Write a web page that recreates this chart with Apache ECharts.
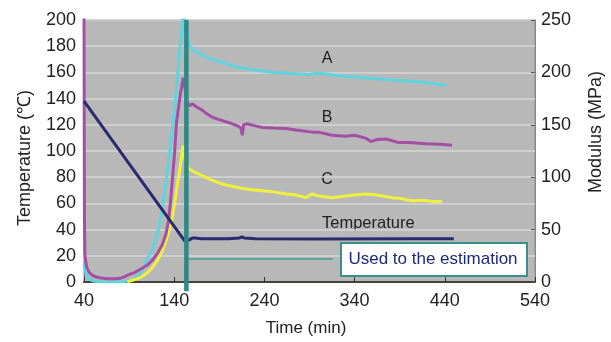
<!DOCTYPE html>
<html>
<head>
<meta charset="utf-8">
<script src="https://cdn.jsdelivr.net/npm/echarts@6/dist/echarts.min.js"></script>
<style>
html,body{margin:0;padding:0;background:#fff;}
#c{width:611px;height:342px;}
</style>
</head>
<body>
<div id="c"></div>
<script>
// Time (min) vs value; modulus series in MPa (right axis), temperature in °C (left axis)
const xTicks = [40, 140, 240, 340, 440, 540];
const tempTicks = [0, 20, 40, 60, 80, 100, 120, 140, 160, 180, 200];
const modTicks = [0, 50, 100, 150, 200, 250];

const seriesA = [[40,18],[42,9],[45,3],[50,1],[60,0],[80,0],[95,2],[100,6],[105,13],[110,21],[115,30],[121,44],[127,71],[131,97],[135,124],[140,162],[144,199],[147,228],[149.5,252],[152,250],[155,232],[157,225],[162,221],[170,217],[180,213],[195,209],[210,205],[230,202],[250,200],[270,199],[290,198],[300,199.5],[320,197],[350,195],[380,193],[410,191],[430,189],[442,187.5]];

const seriesB = [[40,252],[40.5,60],[41,25],[43,14],[46,9],[50,6],[57,4],[65,3],[75,3],[80,3.5],[85,5],[91,7.5],[96,9],[102,12],[110,16],[116,21],[122,28],[127,36],[131,46],[134,60],[136,78],[138,98],[140.5,124],[142.5,152],[145,168],[147,180],[150,195],[152,185],[154,172],[157,168],[160,170],[165,167],[171,164],[177,160],[183,157],[190,155],[201,152],[210,149],[214,147],[215.5,140],[217,150],[221,151],[230,149],[238,147.5],[250,147],[264,146.5],[275,145],[293,143],[300,143],[315,140],[330,139],[340,140],[353,137],[358,134],[365,136],[375,136.5],[389,133],[400,133],[420,132],[435,131.5],[448,130.5]];

const seriesC = [[88,0],[91,1],[95,2],[99,3],[104,5],[110,8.6],[115,13],[121,20],[126,28],[130,37],[133,45],[135,52],[138,63],[141,78],[143,90],[145,101],[147.5,115],[149.5,130],[151,122],[153,112],[155,109],[158,107],[165,104],[172,101],[182,97],[195,93],[212,90],[225,88],[238,87],[250,86],[264,84],[275,83],[286,80.5],[293,84],[300,82],[315,80.5],[330,82],[340,83],[353,84],[365,83],[381,80.5],[390,80],[403,77.6],[415,78],[425,77],[437,76.5]];

const seriesTemp = [[40,138],[152,31],[153,31],[156,32],[160,33.5],[163,33.5],[170,33],[200,33],[212,33.5],[215,34.5],[218,33.5],[230,33],[300,32.8],[400,33],[450,33]];

const estTime = 153.5;          // vertical marker (min)
const estLine = [[155,17.5],[316,17.5]]; // horizontal marker (°C)

const chart = echarts.init(document.getElementById('c'), null, {renderer:'canvas'});
const FONT = 'Liberation Sans, Arial, sans-serif';

chart.setOption({
  animation: false,
  grid: {left:84, right:76, top:20, bottom:60, show:true, backgroundColor:'#b8b8b8', borderColor:'#8c8c8c', borderWidth:1},
  xAxis: {
    type:'value', min:40, max:540, interval:100,
    axisLine:{show:true, lineStyle:{color:'#4a403a', width:2}},
    axisTick:{show:true, inside:true, length:5, lineStyle:{color:'#333'}},
    axisLabel:{color:'#222', fontSize:18, fontFamily:FONT, margin:10},
    splitLine:{show:false}
  },
  yAxis: [
    {type:'value', min:0, max:200, interval:20,
     axisLine:{show:true, lineStyle:{color:'#777', width:1}},
     axisTick:{show:false},
     axisLabel:{color:'#222', fontSize:18, fontFamily:FONT, margin:8},
     splitLine:{show:true, lineStyle:{color:'#d6d6d6', width:1.5}}},
    {type:'value', min:0, max:250, interval:50, position:'right',
     axisLine:{show:true, lineStyle:{color:'#888', width:1}},
     axisTick:{show:true, inside:true, length:4, lineStyle:{color:'#555'}},
     axisLabel:{color:'#222', fontSize:18, fontFamily:FONT, margin:6},
     splitLine:{show:false}}
  ],
  series: [
    {type:'line', name:'A', yAxisIndex:1, data:seriesA, showSymbol:false, symbol:'none', lineStyle:{color:'#5fd3de', width:3}, z:3},
    {type:'line', name:'B', yAxisIndex:1, data:seriesB, showSymbol:false, symbol:'none', lineStyle:{color:'#a44ea6', width:3}, z:4},
    {type:'line', name:'C', yAxisIndex:1, data:seriesC, showSymbol:false, symbol:'none', lineStyle:{color:'#f0f03c', width:3}, z:3},
    {type:'line', name:'Temperature', yAxisIndex:0, data:seriesTemp, showSymbol:false, symbol:'none', lineStyle:{color:'#2b2a6c', width:3}, z:5},
    {type:'line', name:'est', yAxisIndex:0, data:estLine, showSymbol:false, symbol:'none', lineStyle:{color:'#3d9c96', width:1.5}, z:6},
    {type:'line', name:'vert', yAxisIndex:0, data:[[estTime,-7],[estTime,200]], clip:false, showSymbol:false, symbol:'none', lineStyle:{color:'#2c8983', width:4.5}, z:7}
  ],
  graphic: [
    {type:'text', style:{text:'Temperature (℃)', fontSize:18, fontFamily:FONT, fill:'#222', textAlign:'center', textVerticalAlign:'middle'}, x:25, y:158, rotation:Math.PI/2},
    {type:'text', style:{text:'Modulus (MPa)', fontSize:18, fontFamily:FONT, fill:'#222', textAlign:'center', textVerticalAlign:'middle'}, x:596, y:132, rotation:Math.PI/2},
    {type:'text', style:{text:'Time (min)', fontSize:17, fontFamily:FONT, fill:'#222', textAlign:'center', textVerticalAlign:'middle'}, x:306, y:328},
    {type:'text', style:{text:'A', fontSize:16, fontFamily:FONT, fill:'#222', textAlign:'center', textVerticalAlign:'middle'}, x:327, y:59},
    {type:'text', style:{text:'B', fontSize:16, fontFamily:FONT, fill:'#222', textAlign:'center', textVerticalAlign:'middle'}, x:327, y:118},
    {type:'text', style:{text:'C', fontSize:16, fontFamily:FONT, fill:'#222', textAlign:'center', textVerticalAlign:'middle'}, x:327, y:180},
    {type:'text', style:{text:'Temperature', fontSize:16.5, fontFamily:FONT, fill:'#222', textAlign:'left', textVerticalAlign:'middle'}, x:322, y:223},
    {type:'rect', shape:{x:341, y:243, width:186, height:33}, style:{fill:'#ffffff', stroke:'#3a8f8a', lineWidth:2}, z:10},
    {type:'text', style:{text:'Used to the estimation', fontSize:17, fontFamily:FONT, fill:'#1e2a78', textAlign:'center', textVerticalAlign:'middle'}, x:433, y:259, z:11}
  ]
});
</script>
</body>
</html>
